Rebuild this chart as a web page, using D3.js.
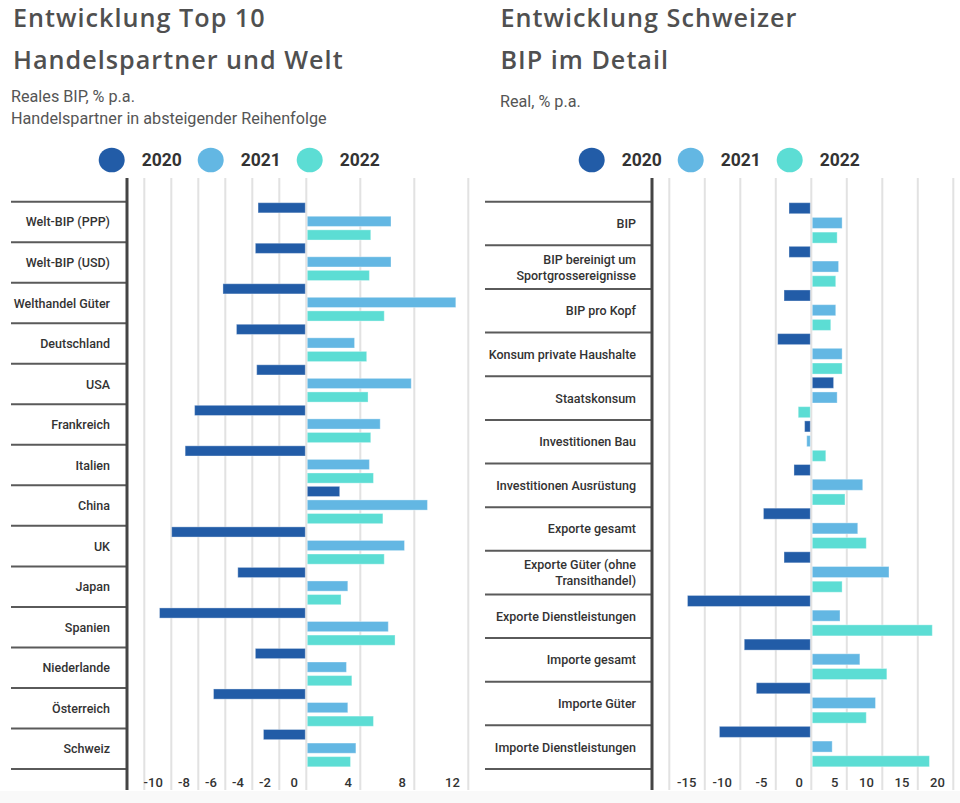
<!DOCTYPE html>
<html>
<head>
<meta charset="utf-8">
<script src="https://cdn.jsdelivr.net/npm/d3@7"></script>
<style>
  html, body { margin: 0; padding: 0; background: #ffffff; }
  svg { display: block; }
</style>
</head>
<body>
<svg id="chart" width="960" height="803"></svg>
<script>
// ---------- DATA ----------
const years = ["2020", "2021", "2022"];
const colors = ["#225ca7", "#63b7e3", "#5cddd4"];

// Left panel
const leftTitle = ["Entwicklung Top 10", "Handelspartner und Welt"];
const leftSubtitle = ["Reales BIP, % p.a.", "Handelspartner in absteigender Reihenfolge"];
const leftCategories = ["Welt-BIP (PPP)", "Welt-BIP (USD)", "Welthandel Güter", "Deutschland", "USA",
  "Frankreich", "Italien", "China", "UK", "Japan", "Spanien", "Niederlande", "Österreich", "Schweiz"];
const left2020 = [-3.5, -3.7, -6.1, -5.1, -3.6, -8.2, -8.9, 2.4, -9.9, -5.0, -10.8, -3.7, -6.8, -3.1];
const left2021 = [6.2, 6.2, 11.0, 3.5, 7.7, 5.4, 4.6, 8.9, 7.2, 3.0, 6.0, 2.9, 3.0, 3.6];
const left2022 = [4.7, 4.6, 5.7, 4.4, 4.5, 4.7, 4.9, 5.6, 5.7, 2.5, 6.5, 3.3, 4.9, 3.2];
const leftGridTicks = [-12, -10, -8, -6, -4, -2, 0, 4, 8, 12];
const leftLabelTicks = [-10, -8, -6, -4, -2, 0, 4, 8, 12];

// Right panel
const rightTitle = ["Entwicklung Schweizer", "BIP im Detail"];
const rightSubtitle = ["Real, % p.a."];
const rightCategories = ["BIP", "BIP bereinigt um\nSportgrossereignisse", "BIP pro Kopf", "Konsum private Haushalte",
  "Staatskonsum", "Investitionen Bau", "Investitionen Ausrüstung", "Exporte gesamt",
  "Exporte Güter (ohne\nTransithandel)", "Exporte Dienstleistungen", "Importe gesamt", "Importe Güter",
  "Importe Dienstleistungen"];
const right2020 = [-3.0, -3.0, -3.7, -4.6, 3.0, -0.8, -2.3, -6.6, -3.7, -17.3, -9.3, -7.6, -12.8];
const right2021 = [4.2, 3.7, 3.3, 4.2, 3.5, -0.5, 7.1, 6.4, 10.8, 3.9, 6.7, 8.9, 2.8];
const right2022 = [3.5, 3.3, 2.6, 4.2, -1.7, 1.9, 4.6, 7.6, 4.2, 16.9, 10.5, 7.6, 16.5];
const rightGridTicks = [-20, -15, -10, -5, 0, 5, 10, 15, 20];
const rightLabelTicks = [-15, -10, -5, 0, 5, 10, 15, 20];

// ---------- DRAW ----------
const svg = d3.select("#chart");
const labelFont = "Roboto, 'Noto Sans', sans-serif";
const titleFont = "'Open Sans', 'Noto Sans', sans-serif";

svg.append("rect").attr("x", 0).attr("y", 791).attr("width", 960).attr("height", 12).attr("fill", "#f9f9f9");

function panel(cfg) {
  const g = svg.append("g");

  // titles
  cfg.title.forEach((t, i) => {
    g.append("text").attr("x", cfg.titleX).attr("y", 27 + i * 41.8)
      .attr("font-family", titleFont).attr("font-size", 25.2).attr("font-weight", 600)
      .attr("letter-spacing", "1px").attr("fill", "#505050").text(t);
  });
  cfg.subtitle.forEach((t, i) => {
    g.append("text").attr("x", cfg.subX).attr("y", cfg.subY + i * 21.6)
      .attr("font-family", labelFont).attr("font-size", 16.2).attr("fill", "#555").text(t);
  });

  // legend
  years.forEach((yr, i) => {
    const cx = cfg.legendX + i * 99;
    g.append("ellipse").attr("cx", cx).attr("cy", 160).attr("rx", 13).attr("ry", 12.3).attr("fill", colors[i]);
    g.append("text").attr("x", cx + 30).attr("y", 166).attr("font-family", labelFont)
      .attr("font-size", 17.5).attr("font-weight", 700).attr("fill", "#333").text(yr);
  });

  const x = d3.scaleLinear().domain(cfg.domain).range(cfg.range);
  const y = d3.scaleBand().domain(cfg.categories).range([201.7, 769]);
  const inner = d3.scaleBand().domain(years).range([1, y.bandwidth() - 2.2]).paddingInner(0.25);

  // gridlines
  g.append("g").selectAll("line").data(cfg.gridTicks).join("line")
    .attr("x1", d => x(d)).attr("x2", d => x(d)).attr("y1", 178).attr("y2", 790)
    .attr("stroke", "#e2e2e2").attr("stroke-width", 2);

  // x axis labels
  const axis = g.append("g").attr("transform", "translate(0,774)")
    .call(d3.axisBottom(x).tickValues(cfg.labelTicks).tickSize(0).tickFormat(d => String(d)));
  axis.select(".domain").remove();
  axis.selectAll("text").attr("text-anchor", "end").attr("dx", -9).attr("dy", 0).attr("y", 13)
    .attr("font-family", labelFont).attr("font-size", 13).attr("font-weight", 500).attr("fill", "#333");

  // row separators
  const bounds = cfg.categories.map(c => y(c)).concat([y(cfg.categories[cfg.categories.length - 1]) + y.bandwidth()]);
  g.append("g").selectAll("line").data(bounds).join("line")
    .attr("x1", cfg.sepX).attr("x2", cfg.axisX).attr("y1", d => d).attr("y2", d => d)
    .attr("stroke", "#5a5a5a").attr("stroke-width", 2);

  // vertical axis line
  g.append("line").attr("x1", cfg.axisX).attr("x2", cfg.axisX).attr("y1", 178).attr("y2", 790)
    .attr("stroke", "#444").attr("stroke-width", 3);

  // category labels
  const lab = g.append("g").selectAll("text").data(cfg.categories).join("text")
    .attr("text-anchor", "end").attr("font-family", labelFont).attr("font-size", 12.5)
    .attr("font-weight", 500).attr("fill", "#333");
  lab.each(function(d) {
    const lines = d.split("\n");
    const cy = y(d) + y.bandwidth() / 2;
    const t = d3.select(this);
    lines.forEach((ln, i) => {
      t.append("tspan").attr("x", cfg.labelX)
        .attr("y", cy + 4.5 + (i - (lines.length - 1) / 2) * 16).text(ln);
    });
  });

  // bars
  const series = [cfg.v2020, cfg.v2021, cfg.v2022];
  series.forEach((vals, si) => {
    g.append("g").selectAll("rect").data(vals).join("rect")
      .attr("x", d => Math.min(x(0), x(d)) + (d >= 0 ? 1 : -1))
      .attr("width", d => Math.abs(x(d) - x(0)))
      .attr("y", (d, i) => y(cfg.categories[i]) + inner(years[si]))
      .attr("height", inner.bandwidth())
      .attr("fill", colors[si])
      .attr("stroke", "rgba(255,255,255,0.35)").attr("stroke-width", 1);
  });
}

panel({
  title: leftTitle, titleX: 13, subtitle: leftSubtitle, subX: 11, subY: 102,
  legendX: 111.7, categories: leftCategories,
  v2020: left2020, v2021: left2021, v2022: left2022,
  domain: [-12, 12], range: [144.3, 468.3],
  gridTicks: leftGridTicks, labelTicks: leftLabelTicks,
  axisX: 127, sepX: 11, labelX: 110
});

panel({
  title: rightTitle, titleX: 500.5, subtitle: rightSubtitle, subX: 500, subY: 106.5,
  legendX: 591.7, categories: rightCategories,
  v2020: right2020, v2021: right2021, v2022: right2022,
  domain: [-20, 20], range: [669.3, 953.3],
  gridTicks: rightGridTicks, labelTicks: rightLabelTicks,
  axisX: 652, sepX: 485, labelX: 636
});
</script>
</body>
</html>
